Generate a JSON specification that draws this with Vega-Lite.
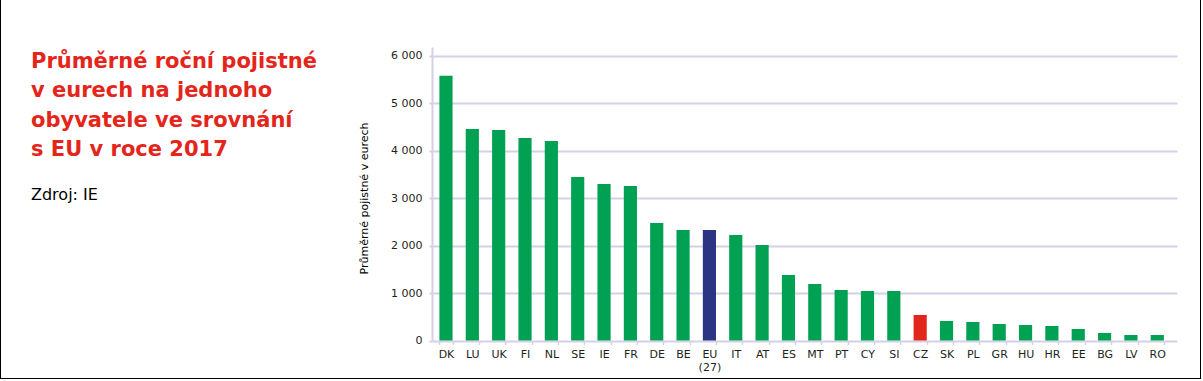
{
  "$schema": "https://vega.github.io/schema/vega-lite/v6.json",
  "width": 1201,
  "height": 381,
  "autosize": "none",
  "padding": {"left": 0, "top": -2, "right": 0, "bottom": 0},
  "background": "white",
  "config": {
    "view": {"stroke": "#000000", "strokeWidth": 2, "fill": "white"},
    "font": "DejaVu Sans"
  },
  "title": {
    "text": ["Průměrné roční pojistné", "v eurech na jednoho", "obyvatele ve srovnání", "s EU v roce 2017"],
    "subtitle": "Zdroj: IE",
    "anchor": "start",
    "frame": "group",
    "orient": "top",
    "dx": 31,
    "dy": 209,
    "font": "DejaVu Sans",
    "fontSize": 21,
    "fontWeight": "bold",
    "color": "#e4251b",
    "lineHeight": 29.5,
    "subtitleFont": "DejaVu Sans",
    "subtitleFontSize": 16,
    "subtitleColor": "#000000",
    "subtitlePadding": 27
  },
  "data": {
    "values": [
      {"code": "DK", "value": 5575, "group": "country"},
      {"code": "LU", "value": 4453, "group": "country"},
      {"code": "UK", "value": 4432, "group": "country"},
      {"code": "FI", "value": 4263, "group": "country"},
      {"code": "NL", "value": 4200, "group": "country"},
      {"code": "SE", "value": 3442, "group": "country"},
      {"code": "IE", "value": 3295, "group": "country"},
      {"code": "FR", "value": 3253, "group": "country"},
      {"code": "DE", "value": 2474, "group": "country"},
      {"code": "BE", "value": 2326, "group": "country"},
      {"code": "EU (27)", "value": 2326, "group": "eu"},
      {"code": "IT", "value": 2221, "group": "country"},
      {"code": "AT", "value": 2011, "group": "country"},
      {"code": "ES", "value": 1379, "group": "country"},
      {"code": "MT", "value": 1189, "group": "country"},
      {"code": "PT", "value": 1063, "group": "country"},
      {"code": "CY", "value": 1042, "group": "country"},
      {"code": "SI", "value": 1042, "group": "country"},
      {"code": "CZ", "value": 537, "group": "cz"},
      {"code": "SK", "value": 410, "group": "country"},
      {"code": "PL", "value": 389, "group": "country"},
      {"code": "GR", "value": 347, "group": "country"},
      {"code": "HU", "value": 326, "group": "country"},
      {"code": "HR", "value": 305, "group": "country"},
      {"code": "EE", "value": 242, "group": "country"},
      {"code": "BG", "value": 158, "group": "country"},
      {"code": "LV", "value": 116, "group": "country"},
      {"code": "RO", "value": 116, "group": "country"}
    ]
  },
  "mark": {"type": "bar"},
  "encoding": {
    "x": {
      "field": "code",
      "type": "nominal",
      "sort": null,
      "scale": {"range": [432, 1177], "paddingInner": 0.5, "paddingOuter": 0.39, "align": 0.36},
      "axis": {
        "title": null,
        "orient": "bottom",
        "offset": -38.5,
        "domain": false,
        "grid": false,
        "tickBand": "extent",
        "ticks": true,
        "tickSize": 4,
        "tickWidth": 1.5,
        "tickColor": "#d3d1e6",
        "labelAngle": 0,
        "labelFont": "DejaVu Sans",
        "labelFontSize": 11,
        "labelColor": "#231f20",
        "labelPadding": 4,
        "labelLineHeight": 13,
        "labelExpr": "isValid(datum.value) ? split(datum.value, ' ') : ''"
      }
    },
    "y": {
      "field": "value",
      "type": "quantitative",
      "scale": {"domain": [0, 6179], "range": [342.5, 49], "nice": false, "zero": true},
      "axis": {
        "title": "Průměrné pojistné v eurech",
        "orient": "left",
        "offset": -432,
        "values": [0, 1000, 2000, 3000, 4000, 5000, 6000],
        "format": ",d",
        "labelExpr": "replace(datum.label, ',', ' ')",
        "domain": true,
        "domainColor": "#d3d1e6",
        "domainWidth": 2,
        "grid": true,
        "gridColor": "#d3d1e6",
        "gridWidth": 2,
        "ticks": true,
        "tickSize": 3,
        "tickWidth": 2,
        "tickColor": "#d3d1e6",
        "labelFont": "DejaVu Sans",
        "labelFontSize": 11,
        "labelColor": "#231f20",
        "labelPadding": 7,
        "titleFont": "DejaVu Sans",
        "titleFontSize": 11,
        "titleFontWeight": "normal",
        "titleColor": "#000000",
        "titleX": -65,
        "titleY": 200,
        "titleAngle": -90,
        "titleAlign": "center",
        "titleBaseline": "alphabetic"
      }
    },
    "color": {
      "field": "group",
      "type": "nominal",
      "scale": {"domain": ["country", "eu", "cz"], "range": ["#00a152", "#2b3583", "#e3261b"]},
      "legend": null
    }
  }
}
